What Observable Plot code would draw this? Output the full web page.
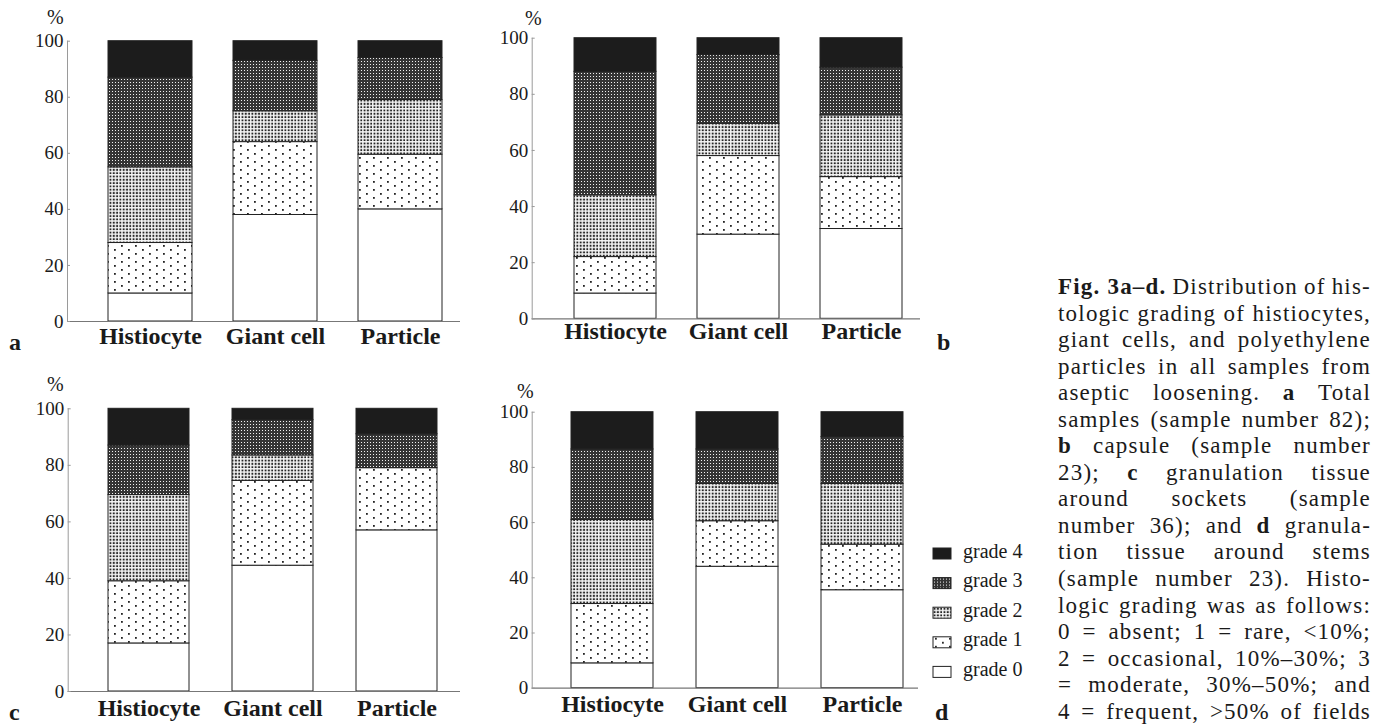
<!DOCTYPE html>
<html>
<head>
<meta charset="utf-8">
<script src="https://cdn.jsdelivr.net/npm/d3@7"></script>
<script src="https://cdn.jsdelivr.net/npm/@observablehq/plot@0.6"></script>
<style>
  html, body { margin: 0; padding: 0; background: #fff; }
  body { width: 1380px; height: 725px; overflow: hidden; position: relative;
         font-family: "Liberation Serif", "Times New Roman", serif; color: #1a1a1a; }
  .panel { position: absolute; }
  .panel svg { background: transparent; overflow: visible; max-width: none; }
  #overlay { position: absolute; left: 0; top: 0; }
  #caption { position: absolute; left: 1058px; top: 274px; width: 313px;
             font-size: 23px; line-height: 26.56px; letter-spacing: 1.2px; }
  #caption .ln { display: flex; justify-content: space-between; white-space: nowrap; height: 26.56px; }
  #caption b { font-weight: bold; }
</style>
</head>
<body>
<svg width="0" height="0" style="position:absolute">
  <defs>
    <pattern id="pat0" width="4" height="4" patternUnits="userSpaceOnUse">
      <rect width="4" height="4" fill="#ffffff"/>
    </pattern>
    <pattern id="pat1" width="14" height="8" patternUnits="userSpaceOnUse">
      <rect width="14" height="8" fill="#ffffff"/>
      <rect x="2" y="1" width="1.8" height="1.8" fill="#222"/>
      <rect x="9" y="5" width="1.8" height="1.8" fill="#222"/>
    </pattern>
    <pattern id="pat2" width="3.3" height="3.3" patternUnits="userSpaceOnUse">
      <rect width="3.3" height="3.3" fill="#f6f6f6"/>
      <rect x="0.6" y="0.6" width="1.9" height="1.9" fill="#262626"/>
    </pattern>
    <pattern id="pat3" width="3" height="3" patternUnits="userSpaceOnUse">
      <rect width="3" height="3" fill="#353535"/>
      <rect x="1" y="1" width="1" height="1" fill="#f2f2f2"/>
    </pattern>
    <pattern id="pat4" width="4" height="4" patternUnits="userSpaceOnUse">
      <rect width="4" height="4" fill="#1c1c1c"/>
    </pattern>
  </defs>
</svg>

<div id="pa" class="panel" style="left:0px;top:0px"></div>
<div id="pb" class="panel" style="left:490px;top:0px"></div>
<div id="pc" class="panel" style="left:0px;top:360px"></div>
<div id="pd" class="panel" style="left:490px;top:360px"></div>

<svg id="overlay" width="1380" height="725"></svg>

<div id="caption">
  <div class="ln"><span><b>Fig. 3a–d.</b></span><span>Distribution</span><span>of</span><span>his-</span></div>
  <div class="ln"><span>tologic</span><span>grading</span><span>of</span><span>histiocytes,</span></div>
  <div class="ln"><span>giant</span><span>cells,</span><span>and</span><span>polyethylene</span></div>
  <div class="ln"><span>particles</span><span>in</span><span>all</span><span>samples</span><span>from</span></div>
  <div class="ln"><span>aseptic</span><span>loosening.</span><span><b>a</b></span><span>Total</span></div>
  <div class="ln"><span>samples</span><span>(sample</span><span>number</span><span>82);</span></div>
  <div class="ln"><span><b>b</b></span><span>capsule</span><span>(sample</span><span>number</span></div>
  <div class="ln"><span>23);</span><span><b>c</b></span><span>granulation</span><span>tissue</span></div>
  <div class="ln"><span>around</span><span>sockets</span><span>(sample</span></div>
  <div class="ln"><span>number</span><span>36);</span><span>and</span><span><b>d</b></span><span>granula-</span></div>
  <div class="ln"><span>tion</span><span>tissue</span><span>around</span><span>stems</span></div>
  <div class="ln"><span>(sample</span><span>number</span><span>23).</span><span>Histo-</span></div>
  <div class="ln"><span>logic</span><span>grading</span><span>was</span><span>as</span><span>follows:</span></div>
  <div class="ln"><span>0</span><span>=</span><span>absent;</span><span>1</span><span>=</span><span>rare,</span><span>&lt;10%;</span></div>
  <div class="ln"><span>2</span><span>=</span><span>occasional,</span><span>10%–30%;</span><span>3</span></div>
  <div class="ln"><span>=</span><span>moderate,</span><span>30%–50%;</span><span>and</span></div>
  <div class="ln"><span>4</span><span>=</span><span>frequent,</span><span>&gt;50%</span><span>of</span><span>fields</span></div>
</div>

<script>
// ---------------- DATA ----------------
const categories = ["Histiocyte", "Giant cell", "Particle"];
const grades = ["grade 0", "grade 1", "grade 2", "grade 3", "grade 4"];
const legendOrder = ["grade 4", "grade 3", "grade 2", "grade 1", "grade 0"];
const yTicks = [0, 20, 40, 60, 80, 100];
const panelLetters = ["a", "b", "c", "d"];

// percent of samples in grade 0..4, one row per category (Histiocyte, Giant cell, Particle)
// a: total samples (n = 82)
const totalSamples = [
  [10, 18, 27, 32, 13],
  [38, 26, 11, 18, 7],
  [40, 19.5, 19.5, 15, 6]
];
// b: capsule (n = 23)
const capsule = [
  [9, 13, 22, 44, 12],
  [30, 28, 11.5, 24.5, 6],
  [32, 18.5, 22, 17, 10.5]
];
// c: granulation tissue around sockets (n = 36)
const aroundSockets = [
  [17, 22, 30.5, 17.5, 13],
  [44.5, 30, 9, 12.5, 4],
  [57, 22, 0, 12, 9]
];
// d: granulation tissue around stems (n = 23)
const aroundStems = [
  [9, 21.5, 30.5, 25.5, 13.5],
  [44, 16.5, 13.5, 12.5, 13.5],
  [35.5, 16.5, 22, 17, 9]
];

// ---------------- DRAWING ----------------
const FONT = "'Liberation Serif', 'Times New Roman', serif";
const patternFor = g => `url(#pat${g})`;

function makePanel(values, cfg) {
  const rows = [];
  categories.forEach((c, i) => values[i].forEach((v, g) => rows.push({category: c, grade: grades[g], g, value: v})));
  return Plot.plot({
    width: cfg.width, height: cfg.height,
    marginLeft: cfg.ml, marginRight: cfg.mr, marginTop: cfg.mt, marginBottom: cfg.mb,
    style: {fontFamily: FONT, color: "#1a1a1a", background: "transparent", overflow: "visible"},
    x: {domain: categories, range: cfg.xr, padding: cfg.pad},
    y: {domain: [0, 100]},
    color: {type: "identity"},
    marks: [
      Plot.barY(rows, {x: "category", y: "value", fill: d => patternFor(d.g), stroke: "#222", strokeWidth: 1}),
      Plot.ruleY([0], {stroke: "#777", strokeWidth: 1.2}),
      Plot.frame({anchor: "left", stroke: "#9a9a9a"}),
      Plot.axisY({ticks: yTicks, tickSize: -3, tickPadding: 7, fontSize: 19, tickFormat: d => String(d), label: null, stroke: "#9a9a9a"}),
      Plot.axisX({tickSize: 0, tickPadding: cfg.tp, fontSize: 24, fontWeight: "bold", label: null})
    ]
  });
}

const cfgs = [
  {id: "pa", data: totalSamples, width: 470, height: 360, ml: 67, mr: 10, mt: 40.7, mb: 39, xr: [67.1, 483.4], pad: 0.324, tp: 5},
  {id: "pb", data: capsule, width: 470, height: 360, ml: 41.7, mr: 40, mt: 37.7, mb: 41.7, xr: [41.5, 453.5], pad: 0.336, tp: 3},
  {id: "pc", data: aroundSockets, width: 470, height: 365, ml: 67.7, mr: 10, mt: 48.3, mb: 34, xr: [65.7, 480.4], pad: 0.344, tp: 7},
  {id: "pd", data: aroundStems, width: 470, height: 365, ml: 41.7, mr: 42, mt: 51.7, mb: 37.3, xr: [37.9, 456.2], pad: 0.346, tp: 7}
];
cfgs.forEach(c => document.getElementById(c.id).appendChild(makePanel(c.data, c)));

// ---------------- OVERLAY TEXT & LEGEND ----------------
const ov = d3.select("#overlay").style("font-family", FONT);
const percentPos = [[47, 24], [525, 25], [47, 391], [517, 398]];
percentPos.forEach(([x, y]) => ov.append("text").attr("x", x).attr("y", y).attr("font-size", 20).attr("fill", "#1a1a1a").text("%"));
const letterPos = [[9, 350], [937, 350], [9, 720], [935, 720]];
panelLetters.forEach((t, i) => ov.append("text").attr("x", letterPos[i][0]).attr("y", letterPos[i][1])
  .attr("font-size", 24).attr("font-weight", "bold").attr("fill", "#1a1a1a").text(t));

const lg = ov.append("g").attr("transform", "translate(933,548)");
legendOrder.forEach((name, i) => {
  const g = grades.indexOf(name);
  const row = lg.append("g").attr("transform", `translate(0,${i * 29.6})`);
  row.append("rect").attr("width", 18).attr("height", 11).attr("fill", patternFor(g))
    .attr("stroke", "#222").attr("stroke-width", 1);
  row.append("text").attr("x", 30).attr("y", 9.5).attr("font-size", 20).attr("fill", "#1a1a1a").text(name);
});
</script>
</body>
</html>
